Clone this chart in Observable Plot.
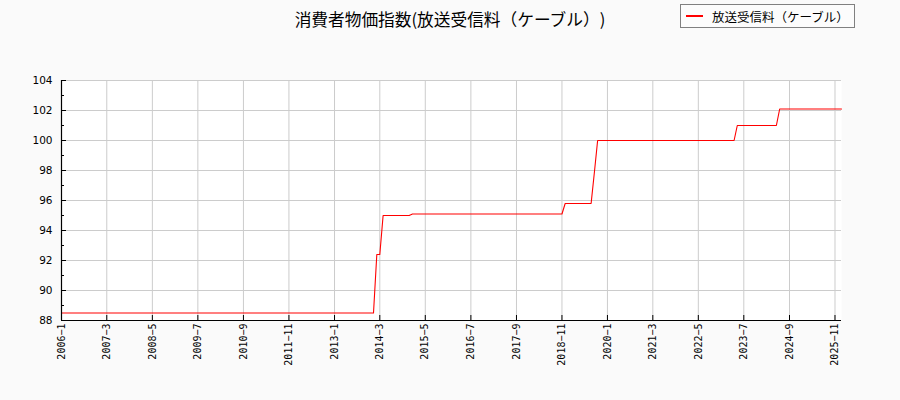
<!DOCTYPE html>
<html>
<head>
<meta charset="utf-8">
<script src="https://cdn.jsdelivr.net/npm/d3@7"></script>
<script src="https://cdn.jsdelivr.net/npm/@observablehq/plot@0.6"></script>
<style>
  html, body { margin: 0; padding: 0; background: #fafafa; }
  #wrap { position: relative; width: 900px; height: 400px; overflow: hidden; }
  #title { position: absolute; left: 0; top: 7px; width: 900px; text-align: center;
           font-family: "Noto Sans CJK JP", sans-serif; font-size: 16.7px; color: #000;
           text-spacing-trim: space-all; white-space: nowrap; }
  #legend { position: absolute; left: 680px; top: 4px; width: 175px; height: 24px; box-sizing: border-box;
            border: 1px solid #808080; background: #fcfcfc; display: flex; align-items: center; }
  #legend .sw { width: 17px; height: 0; border-top: 2px solid red; margin-left: 5px; margin-right: 9px; }
  #legend .lb { font-family: "Noto Sans CJK JP", sans-serif; font-size: 12.5px; color: #000; white-space: nowrap;
                text-spacing-trim: space-all; }
  svg { display: block; }
</style>
</head>
<body>
<div id="wrap">
  <div id="chart"></div>
  <div id="title"></div>
  <div id="legend"><div class="sw"></div><div class="lb"></div></div>
</div>
<script>
const titleText = "消費者物価指数(放送受信料（ケーブル）)";
const seriesName = "放送受信料（ケーブル）";

// monthly observations, 2006-1 .. 2026-1
const months = d3.utcMonth.range(new Date(Date.UTC(2006, 0, 1)), new Date(Date.UTC(2026, 1, 1)));
const cpi = [
  88.5, 88.5, 88.5, 88.5, 88.5, 88.5, 88.5, 88.5, 88.5, 88.5, 88.5, 88.5, // 2006
  88.5, 88.5, 88.5, 88.5, 88.5, 88.5, 88.5, 88.5, 88.5, 88.5, 88.5, 88.5, // 2007
  88.5, 88.5, 88.5, 88.5, 88.5, 88.5, 88.5, 88.5, 88.5, 88.5, 88.5, 88.5, // 2008
  88.5, 88.5, 88.5, 88.5, 88.5, 88.5, 88.5, 88.5, 88.5, 88.5, 88.5, 88.5, // 2009
  88.5, 88.5, 88.5, 88.5, 88.5, 88.5, 88.5, 88.5, 88.5, 88.5, 88.5, 88.5, // 2010
  88.5, 88.5, 88.5, 88.5, 88.5, 88.5, 88.5, 88.5, 88.5, 88.5, 88.5, 88.5, // 2011
  88.5, 88.5, 88.5, 88.5, 88.5, 88.5, 88.5, 88.5, 88.5, 88.5, 88.5, 88.5, // 2012
  88.5, 88.5, 88.5, 88.5, 88.5, 88.5, 88.5, 88.5, 88.5, 88.5, 88.5, 88.5, // 2013
  88.5, 92.4, 92.4, 95.0, 95.0, 95.0, 95.0, 95.0, 95.0, 95.0, 95.0, 95.0, // 2014
  95.1, 95.1, 95.1, 95.1, 95.1, 95.1, 95.1, 95.1, 95.1, 95.1, 95.1, 95.1, // 2015
  95.1, 95.1, 95.1, 95.1, 95.1, 95.1, 95.1, 95.1, 95.1, 95.1, 95.1, 95.1, // 2016
  95.1, 95.1, 95.1, 95.1, 95.1, 95.1, 95.1, 95.1, 95.1, 95.1, 95.1, 95.1, // 2017
  95.1, 95.1, 95.1, 95.1, 95.1, 95.1, 95.1, 95.1, 95.1, 95.1, 95.1, 95.8, // 2018
  95.8, 95.8, 95.8, 95.8, 95.8, 95.8, 95.8, 95.8, 97.9, 100.0, 100.0, 100.0, // 2019
  100.0, 100.0, 100.0, 100.0, 100.0, 100.0, 100.0, 100.0, 100.0, 100.0, 100.0, 100.0, // 2020
  100.0, 100.0, 100.0, 100.0, 100.0, 100.0, 100.0, 100.0, 100.0, 100.0, 100.0, 100.0, // 2021
  100.0, 100.0, 100.0, 100.0, 100.0, 100.0, 100.0, 100.0, 100.0, 100.0, 100.0, 100.0, // 2022
  100.0, 100.0, 100.0, 100.0, 101.0, 101.0, 101.0, 101.0, 101.0, 101.0, 101.0, 101.0, // 2023
  101.0, 101.0, 101.0, 101.0, 101.0, 102.1, 102.1, 102.1, 102.1, 102.1, 102.1, 102.1, // 2024
  102.1, 102.1, 102.1, 102.1, 102.1, 102.1, 102.1, 102.1, 102.1, 102.1, 102.1, 102.1, // 2025
  102.1 // 2026
];

const xTickLabels = ["2006-1","2007-3","2008-5","2009-7","2010-9","2011-11","2013-1","2014-3","2015-5",
  "2016-7","2017-9","2018-11","2020-1","2021-3","2022-5","2023-7","2024-9","2025-11"];
const yTicks = [88, 90, 92, 94, 96, 98, 100, 102, 104];
const yMinor = [89, 91, 93, 95, 97, 99, 101, 103];

const xTicks = xTickLabels.map(s => { const [y, m] = s.split("-").map(Number); return new Date(Date.UTC(y, m - 1, 1)); });
const data = months.map((d, i) => ({date: d, value: cpi[i]}));
const fmt = d => `${d.getUTCFullYear()}\u2212${d.getUTCMonth() + 1}`;

const W = 900, H = 400, ML = 61, MR = 59, MT = 80, MB = 80;
const innerW = W - ML - MR, innerH = H - MT - MB;

const chart = Plot.plot({
  width: W, height: H,
  marginLeft: ML, marginRight: MR, marginTop: MT, marginBottom: MB,
  style: {background: "transparent", fontFamily: "DejaVu Sans", color: "#000", overflow: "visible"},
  x: {type: "utc", domain: [months[0], months[months.length - 1]]},
  y: {domain: [88, 104]},
  marks: [
    Plot.frame({fill: "white", stroke: null}),
    Plot.gridX(xTicks, {stroke: "#cccccc", strokeOpacity: 1}),
    Plot.gridY(yTicks, {stroke: "#cccccc", strokeOpacity: 1}),
    Plot.lineY(data, {x: "date", y: "value", stroke: "red", strokeWidth: 1.1}),
    Plot.ruleX([months[0]], {stroke: "black", strokeWidth: 1.2}),
    Plot.ruleY([88], {stroke: "black", strokeWidth: 1.2}),
    Plot.tickX(xTicks, {x: d => d, stroke: "black", insetTop: innerH - 5}),
    Plot.tickY(yTicks, {y: d => d, stroke: "black", insetRight: innerW - 5}),
    Plot.tickY(yMinor, {y: d => d, stroke: "black", insetRight: innerW - 3}),
    Plot.axisY(yTicks, {tickSize: 0, tickPadding: 9, fontSize: 10.5, label: null}),
    Plot.axisX(xTicks, {tickSize: 0, tickPadding: 3, tickRotate: -90, tickFormat: fmt,
      fontFamily: "DejaVu Sans Mono", fontSize: 10, label: null})
  ]
});
document.getElementById("chart").appendChild(chart);
document.getElementById("title").textContent = titleText;
document.querySelector("#legend .lb").textContent = seriesName;
</script>
</body>
</html>
